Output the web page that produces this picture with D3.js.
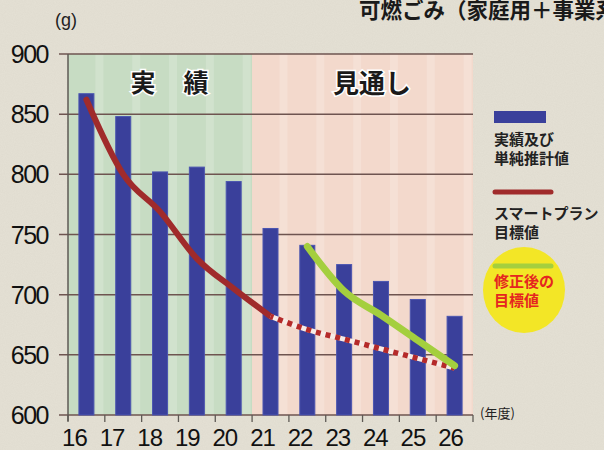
<!DOCTYPE html>
<html><head><meta charset="utf-8">
<script src="https://cdn.jsdelivr.net/npm/d3@7"></script>
<style>
html,body{margin:0;padding:0;background:#e5e1d5;}
svg{display:block;}
text{font-family:"Liberation Sans",Arial,sans-serif;}
.jp{font-family:"Noto Sans CJK JP",sans-serif;}
</style></head>
<body><svg id="c" width="604" height="450"></svg>
<script>
const years = ["16","17","18","19","20","21","22","23","24","25","26"];
const actual = [867, 848, 802, 806, 794, 755, 741, 725, 711, 696, 682];
const planYears = ["16","17","18","19","20","21"];
const planValues = [862, 800, 769, 730, 705, 682];
const projYears = ["21","22","23","24","25","26"];
const projValues = [682, 671, 663, 655, 647, 639];
const revisedYears = ["22","23","24","25","26"];
const revisedValues = [740, 703, 683, 662, 641];
const yTicks = [600, 650, 700, 750, 800, 850, 900];

const svg = d3.select("#c");
const L = 68, R = 473, T = 54, B = 415;
const x = d3.scaleBand().domain(years).range([L, R]);
const y = d3.scaleLinear().domain([600, 900]).range([B, T]);
const cx = d => x(d) + x.bandwidth() / 2;

// paper texture hint
const defs = svg.append("defs");
const f = defs.append("filter").attr("id","paper");
f.append("feTurbulence").attr("type","fractalNoise").attr("baseFrequency",0.9).attr("numOctaves",2).attr("seed",3);
f.append("feColorMatrix").attr("values","0 0 0 0 0.55  0 0 0 0 0.52  0 0 0 0 0.45  0 0 0 0.18 0");
svg.append("rect").attr("width",604).attr("height",450).attr("fill","#e5e1d5");
svg.append("rect").attr("width",604).attr("height",450).attr("filter","url(#paper)");

// region backgrounds
svg.append("rect").attr("x", L).attr("y", T).attr("width", x("21") - L).attr("height", B - T).attr("fill", "#c7dcc3");
svg.append("rect").attr("x", x("21")).attr("y", T).attr("width", R - x("21")).attr("height", B - T).attr("fill", "#f3d9cc");
// lighter stripes between bars
svg.selectAll("rect.stripe").data(years).enter().append("rect")
  .attr("x", d => cx(d) + 9).attr("y", T).attr("width", 8).attr("height", B - T)
  .attr("fill", "#ffffff").attr("opacity", 0.18);

// gridlines
svg.selectAll("line.grid").data(yTicks).enter().append("line")
  .attr("x1", L - 9).attr("x2", R).attr("y1", d => y(d)).attr("y2", d => y(d))
  .attr("stroke", "#6e5450").attr("stroke-width", 1.5);
// left axis
svg.append("line").attr("x1", L).attr("x2", L).attr("y1", T).attr("y2", B + 6).attr("stroke", "#5e5a55").attr("stroke-width", 1.5);
// bottom axis ticks
const xTicks = years.map(d => x(d)).concat([R]);
svg.selectAll("line.xt").data(xTicks).enter().append("line")
  .attr("x1", d => d).attr("x2", d => d).attr("y1", B).attr("y2", B + 7)
  .attr("stroke", "#5e5a55").attr("stroke-width", 1.3);

// bars
const bw = 15;
svg.selectAll("rect.bar").data(years).enter().append("rect")
  .attr("x", d => cx(d) - bw / 2).attr("y", (d, i) => y(actual[i]))
  .attr("width", bw).attr("height", (d, i) => B - y(actual[i]))
  .attr("fill", "#3a409b").attr("stroke", "#4b55b0").attr("stroke-width", 1);

// red plan line
const line = d3.line().curve(d3.curveMonotoneX);
svg.append("path").attr("d", line(planYears.map((d, i) => [cx(d), y(planValues[i])])))
  .attr("fill", "none").attr("stroke", "#a02b2b").attr("stroke-width", 6).attr("stroke-linecap", "round");
// dotted projection
const projPts = projYears.map((d, i) => [cx(d), y(projValues[i])]);
svg.append("path").attr("d", line(projPts)).attr("fill", "none").attr("stroke", "#f7ebe6").attr("stroke-width", 5);
svg.append("path").attr("d", line(projPts)).attr("fill", "none").attr("stroke", "#b52a2a").attr("stroke-width", 5.5)
  .attr("stroke-dasharray", "5,5").attr("stroke-dashoffset", -8);
// green revised line
svg.append("path").attr("d", line(revisedYears.map((d, i) => [cx(d), y(revisedValues[i])])))
  .attr("fill", "none").attr("stroke", "#a4cf3e").attr("stroke-width", 7).attr("stroke-linecap", "round");

// y labels
svg.selectAll("text.yl").data(yTicks).enter().append("text")
  .attr("x", 48).attr("y", d => y(d)).attr("dy", "0.36em").attr("text-anchor", "end")
  .attr("font-size", 25).attr("letter-spacing", -1.5).attr("fill", "#111").text(d => d);
// x labels
svg.selectAll("text.xl").data(years).enter().append("text")
  .attr("x", (d, i) => cx(d) - 12 + i * 0.8).attr("y", 446).attr("text-anchor", "middle")
  .attr("font-size", 24).attr("letter-spacing", -1).attr("fill", "#111").text(d => d);

svg.append("text").attr("x", 55).attr("y", 26).attr("font-size", 18).attr("fill", "#222").text("(g)");
svg.append("text").attr("class","jp").attr("x", 480).attr("y", 418).attr("font-size", 13).attr("fill", "#222").text("(年度)");

// title
svg.append("text").attr("class","jp").attr("x", 359).attr("y", 18).attr("font-size", 21.5).attr("font-weight", "bold").attr("fill", "#1a1a1a").text("可燃ごみ（家庭用＋事業系）");

// region labels
const t1 = svg.append("text").attr("class","jp").attr("x", 143).attr("y", 92).attr("font-size", 25).attr("font-weight","bold").attr("text-anchor","middle").attr("fill","#1a1a1a").text("実");
const t2 = svg.append("text").attr("class","jp").attr("x", 196).attr("y", 92).attr("font-size", 25).attr("font-weight","bold").attr("text-anchor","middle").attr("fill","#1a1a1a").text("績");
const t3 = svg.append("text").attr("class","jp").attr("x", 372).attr("y", 93).attr("font-size", 26).attr("font-weight","bold").attr("text-anchor","middle").attr("fill","#1a1a1a").text("見通し");
[t1,t2,t3].forEach(t => t.attr("stroke","#fff").attr("stroke-width",3).attr("paint-order","stroke"));

// legend
const lg = svg.append("g");
lg.append("rect").attr("x", 494).attr("y", 111).attr("width", 52).attr("height", 12).attr("fill", "#3a409b");
lg.append("text").attr("class","jp").attr("x", 494).attr("y", 145).attr("font-size", 15).attr("font-weight","bold").attr("fill","#222").text("実績及び");
lg.append("text").attr("class","jp").attr("x", 494).attr("y", 164).attr("font-size", 15).attr("font-weight","bold").attr("fill","#222").text("単純推計値");
lg.append("line").attr("x1", 495).attr("x2", 551).attr("y1", 192).attr("y2", 192).attr("stroke", "#a02b2b").attr("stroke-width", 5).attr("stroke-linecap","round");
lg.append("text").attr("class","jp").attr("x", 494).attr("y", 219).attr("font-size", 15).attr("font-weight","bold").attr("fill","#222").text("スマートプラン");
lg.append("text").attr("class","jp").attr("x", 494).attr("y", 238).attr("font-size", 15).attr("font-weight","bold").attr("fill","#222").text("目標値");
lg.append("ellipse").attr("cx", 524).attr("cy", 290).attr("rx", 41).attr("ry", 43).attr("fill", "#f3e626");
lg.append("line").attr("x1", 495).attr("x2", 551).attr("y1", 266).attr("y2", 266).attr("stroke", "#a4cf3e").attr("stroke-width", 5).attr("stroke-linecap","round");
lg.append("text").attr("class","jp").attr("x", 494).attr("y", 287).attr("font-size", 15).attr("font-weight","bold").attr("fill","#e52520").text("修正後の");
lg.append("text").attr("class","jp").attr("x", 494).attr("y", 306).attr("font-size", 15).attr("font-weight","bold").attr("fill","#e52520").text("目標値");
</script></body></html>
